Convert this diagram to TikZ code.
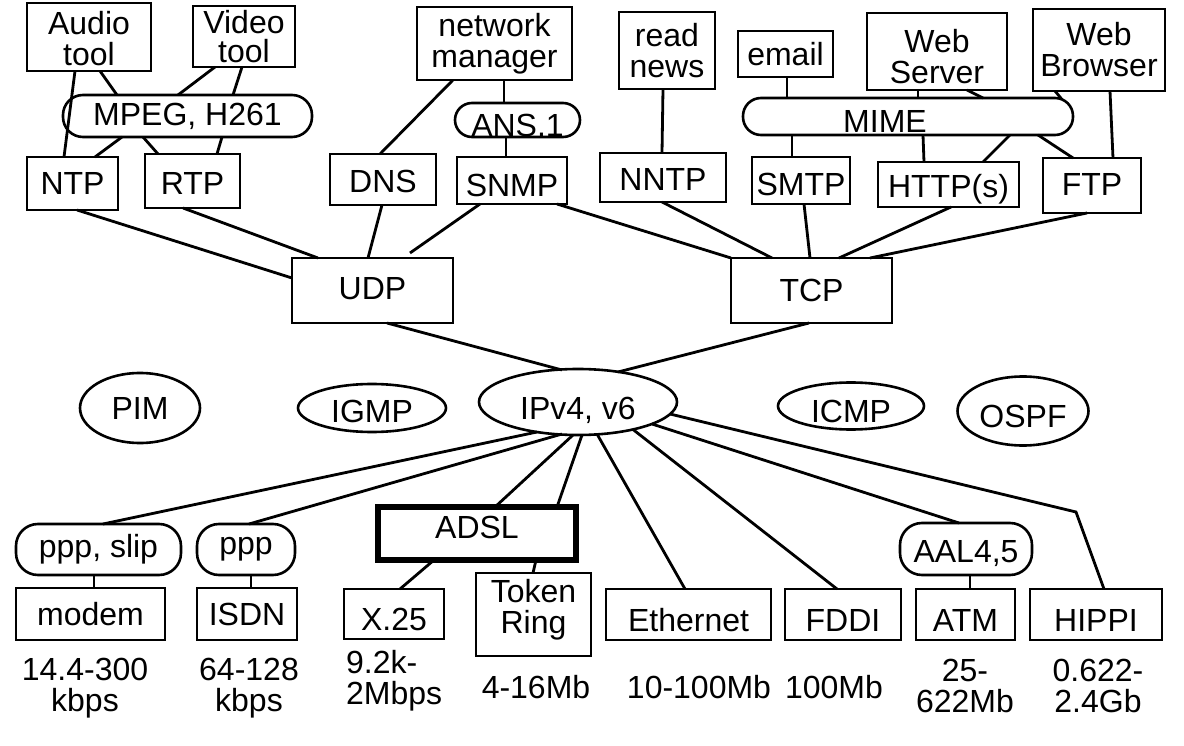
\documentclass[tikz,border=0pt]{standalone}
\usepackage{fontspec}
\setmainfont{Liberation Sans}
\usetikzlibrary{calc,shapes.geometric}
\newcommand{\dtext}[2]{\raisebox{#1}[\height][\depth]{#2}}
\begin{document}
\begin{tikzpicture}[x=1pt,y=-1pt,
  font=\fontsize{32}{31}\selectfont,
  box/.style={draw,line width=2.8pt,rectangle,inner sep=0pt,align=center},
  pill/.style={draw,line width=2.6pt,rectangle,rounded corners=17pt,inner sep=0pt,align=center},
  oval/.style={draw,line width=2.6pt,ellipse,inner sep=0pt},
  conn/.style={line width=2.8pt},
  lab/.style={inner sep=0pt,align=center}]
\path[use as bounding box,fill=white] (0,0) rectangle (1184,746);

% ---- applications ----
\node[box,minimum width=124pt,minimum height=68pt] (audio) at (89,37) {\rule{0pt}{27pt}Audio\\tool};
\node[box,minimum width=102pt,minimum height=61pt] (video) at (244,36.5) {Video\\[-2pt]tool};
\node[pill,minimum width=249pt,minimum height=42pt,rounded corners=20pt] (mpeg) at (187.5,116) {MPEG, H261};
\node[box,minimum width=91pt,minimum height=53pt] (ntp) at (72.5,183.5) {NTP};
\node[box,minimum width=95pt,minimum height=54pt] (rtp) at (192.5,181) {\dtext{-2.5pt}{RTP}};
\node[box,minimum width=106pt,minimum height=51pt] (dns) at (383,179.5) {\dtext{-2pt}{DNS}};
\node[box,minimum width=155pt,minimum height=73pt] (netman) at (494.5,43.5) {network\\manager};
\node[pill,minimum width=125pt,minimum height=34pt] (ans) at (517.5,120) {\dtext{-5pt}{ANS.1}};
\node[box,minimum width=110pt,minimum height=47pt] (snmp) at (512,180.5) {\dtext{-5pt}{SNMP}};
\node[box,minimum width=96pt,minimum height=77pt] (news) at (667,50.5) {read\\news};
\node[box,minimum width=126pt,minimum height=49pt] (nntp) at (663,177.5) {\dtext{-1.5pt}{NNTP}};
\node[box,minimum width=95pt,minimum height=46pt] (email) at (785.5,54) {email};
\node[pill,minimum width=330pt,minimum height=37pt,rounded corners=18pt,
  label={[xshift=-23pt,yshift=-4.5pt]center:MIME}] (mime) at (908,116.5) {};
\node[box,minimum width=98pt,minimum height=47pt] (smtp) at (801,180.5) {\dtext{-3.5pt}{SMTP}};
\node[box,minimum width=140pt,minimum height=77pt] (wserv) at (937,51.5) {\rule{0pt}{34pt}Web\\Server};
\node[box,minimum width=132pt,minimum height=82pt] (wbrow) at (1099,50) {Web\\Browser};
\node[box,minimum width=141pt,minimum height=45pt] (http) at (948.5,184.5) {\dtext{-4.5pt}{HTTP(s)}};
\node[box,minimum width=98pt,minimum height=55pt] (ftp) at (1092,185.5) {\dtext{1.5pt}{FTP}};

% ---- transport / network ----
\node[box,minimum width=161pt,minimum height=65pt] (udp) at (372.5,290.5) {\dtext{2pt}{UDP}};
\node[box,minimum width=161pt,minimum height=65pt] (tcp) at (811.5,290.5) {TCP};
\node[oval,minimum width=120pt,minimum height=70pt] (pim) at (140,408) {PIM};
\node[oval,minimum width=148pt,minimum height=48pt] (igmp) at (372,408) {\dtext{-3.5pt}{IGMP}};
\node[oval,minimum width=198pt,minimum height=66pt] (ip) at (578,402) {\dtext{-8pt}{IPv4, v6}};
\node[oval,minimum width=146pt,minimum height=47pt] (icmp) at (851,406) {\dtext{-5pt}{ICMP}};
\node[oval,minimum width=131pt,minimum height=69pt] (ospf) at (1023,411) {\dtext{-5pt}{OSPF}};

% ---- link layer ----
\node[pill,minimum width=165pt,minimum height=51pt,rounded corners=22pt] (pppslip) at (98.5,549.5) {ppp, slip};
\node[pill,minimum width=98pt,minimum height=51pt,rounded corners=22pt] (ppp) at (246,549.5) {ppp};
\node[box,minimum width=149pt,minimum height=52pt] (modem) at (90.5,614) {modem};
\node[box,minimum width=100pt,minimum height=52pt] (isdn) at (247,614) {ISDN};
\node[box,line width=5.5pt,minimum width=198pt,minimum height=53pt] (adsl) at (477,533.5) {\dtext{6pt}{ADSL}};
\node[box,minimum width=100pt,minimum height=50pt] (x25) at (394,614) {\dtext{-5pt}{X.25}};
\node[box,minimum width=115pt,minimum height=83pt] (token) at (533.5,614.5) {Token\\Ring\rule[-17pt]{0pt}{17pt}};
\node[box,minimum width=165pt,minimum height=51pt] (eth) at (688.5,614.5) {\dtext{-5.5pt}{Ethernet}};
\node[box,minimum width=116pt,minimum height=51pt] (fddi) at (843,614.5) {\dtext{-5.5pt}{FDDI}};
\node[pill,minimum width=132pt,minimum height=52pt,rounded corners=22pt] (aal) at (966,549) {\dtext{-4.5pt}{AAL4,5}};
\node[box,minimum width=99pt,minimum height=51pt] (atm) at (965.5,614.5) {\dtext{-5.5pt}{ATM}};
\node[box,minimum width=132pt,minimum height=51pt] (hippi) at (1096,614.5) {\dtext{-5.5pt}{HIPPI}};

% ---- speed labels ----
\node[lab] (s1) at (85,688) {14.4-300\\kbps};
\node[lab] (s2) at (249,688) {64-128\\kbps};
\node[lab,anchor=west,align=left] (s3) at (346,681) {9.2k-\\2Mbps};
\node[lab] (s4) at (536,687) {4-16Mb};
\node[lab] (s5) at (699,687) {10-100Mb};
\node[lab] (s6) at (834,687) {100Mb};
\node[lab] (s7) at (965,686) {25-\\622Mb};
\node[lab] (s8) at (1098,686) {0.622-\\2.4Gb};

\coordinate (hbend) at (1076,512);

% ---- connectors: applications ----
\draw[conn] ($(audio)+(-14,34)$) -- ($(ntp)+(-8.5,-26.5)$);
\draw[conn] ($(audio)+(11,34)$) -- ($(mpeg)+(-70.5,-21)$);
\draw[conn] ($(video)+(-29,30.5)$) -- ($(mpeg)+(-9.5,-21)$);
\draw[conn] ($(video)+(-2,30.5)$) -- ($(mpeg)+(45.5,-21)$);
\draw[conn] ($(mpeg)+(-65.5,21)$) -- ($(ntp)+(22.5,-26.5)$);
\draw[conn] ($(mpeg)+(-44.5,21)$) -- ($(rtp)+(-34.5,-27)$);
\draw[conn] ($(mpeg)+(34.5,21)$) -- ($(rtp)+(24.5,-27)$);
\draw[conn] ($(netman)+(-41.5,36.5)$) -- ($(dns)+(-3,-25.5)$);
\draw[conn] ($(netman)+(9.5,36.5)$) -- ($(ans)+(-13.5,-17)$);
\draw[conn] ($(ans)+(-11.5,17)$) -- ($(snmp)+(-6,-23.5)$);
\draw[conn] ($(news)+(-4,38.5)$) -- ($(nntp)+(-1,-24.5)$);
\draw[conn] ($(email)+(1.5,23)$) -- ($(mime)+(-121,-18.5)$);
\draw[conn] ($(mime)+(-116,18.5)$) -- ($(smtp)+(-9,-23.5)$);
\draw[conn] ($(wserv)+(-19,38.5)$) -- ($(mime)+(10,-18.5)$);
\draw[conn] ($(wserv)+(30,38.5)$) -- ($(mime)+(75,-18.5)$);
\draw[conn] ($(wbrow)+(-44,41)$) -- ($(mime)+(154,-17)$);
\draw[conn] ($(wbrow)+(11,41)$) -- ($(ftp)+(21,-27.5)$);
\draw[conn] ($(mime)+(15,18.5)$) -- ($(http)+(-24.5,-22.5)$);
\draw[conn] ($(mime)+(102,18.5)$) -- ($(http)+(34.5,-22.5)$);
\draw[conn] ($(mime)+(130,18.5)$) -- ($(ftp)+(-19,-27.5)$);

% ---- connectors: transport ----
\draw[conn] ($(ntp)+(4.5,26.5)$) -- ($(udp)+(-80.5,-12.5)$);
\draw[conn] ($(rtp)+(-9.5,27)$) -- ($(udp)+(-54.5,-32.5)$);
\draw[conn] ($(dns)+(-1,25.5)$) -- ($(udp)+(-4.5,-32.5)$);
\draw[conn] ($(snmp)+(-32,23.5)$) -- ($(udp)+(37.5,-37.5)$);
\draw[conn] ($(snmp)+(45,23.5)$) -- ($(tcp)+(-80.5,-32.5)$);
\draw[conn] ($(nntp)+(-1,24.5)$) -- ($(tcp)+(-39.5,-32.5)$);
\draw[conn] ($(smtp)+(3,23.5)$) -- ($(tcp)+(-1.5,-32.5)$);
\draw[conn] ($(http)+(2.5,22.5)$) -- ($(tcp)+(27.5,-32.5)$);
\draw[conn] ($(ftp)+(-5,27.5)$) -- ($(tcp)+(58.5,-32.5)$);
\draw[conn] ($(udp)+(14.5,32.5)$) -- ($(ip)+(-16,-32)$);
\draw[conn] ($(tcp)+(-2.5,32.5)$) -- ($(ip)+(40,-30)$);

% ---- connectors: link layer ----
\draw[conn] ($(ip)+(-41,30)$) -- ($(pppslip)+(4.5,-25.5)$);
\draw[conn] ($(ip)+(-16,32)$) -- ($(ppp)+(3,-25.5)$);
\draw[conn] ($(ip)+(-5,33)$) -- ($(adsl)+(18,-26.5)$);
\draw[conn] ($(ip)+(4,33)$) -- ($(adsl)+(80,-26.5)$);
\draw[conn] ($(ip)+(19,32)$) -- ($(eth)+(-3.5,-25.5)$);
\draw[conn] ($(ip)+(55,27.5)$) -- ($(fddi)+(-6,-25.5)$);
\draw[conn] ($(ip)+(74,22)$) -- ($(aal)+(-7,-26)$);
\draw[conn] ($(ip)+(92,12)$) -- (hbend) -- ($(hippi)+(8,-25.5)$);
\draw[conn] ($(pppslip)+(-4.5,25.5)$) -- ($(modem)+(3.5,-26)$);
\draw[conn] ($(ppp)+(5,25.5)$) -- ($(isdn)+(4,-26)$);
\draw[conn] ($(adsl)+(-43,26.5)$) -- ($(x25)+(6,-25)$);
\draw[conn] ($(adsl)+(59,26.5)$) -- ($(token)+(-0.5,-41.5)$);
\draw[conn] ($(aal)+(4,26)$) -- ($(atm)+(4.5,-25.5)$);
\end{tikzpicture}
\end{document}
